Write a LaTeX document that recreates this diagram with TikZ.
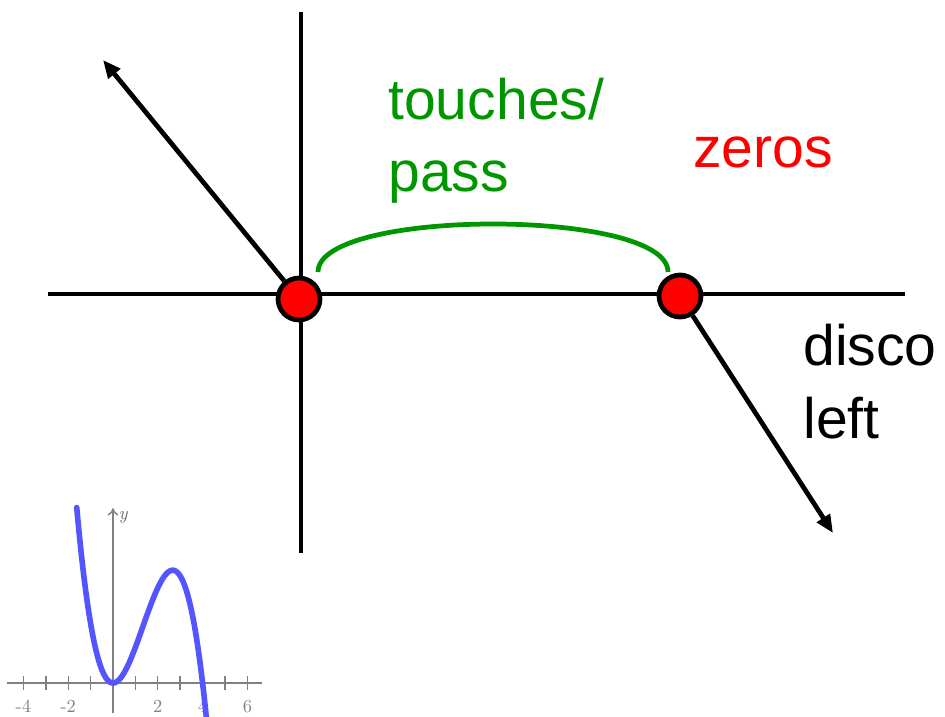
\documentclass[tikz,border=0pt]{standalone}
\usepackage{fontspec}
\setmainfont{Liberation Sans}
\newfontfamily\plotfont{Latin Modern Roman}
\usepackage{tikz}
\usetikzlibrary{positioning, arrows.meta, calc, backgrounds}

\definecolor{zerored}{RGB}{255,0,0}
\definecolor{passgreen}{RGB}{0,150,0}
\definecolor{curveblue}{RGB}{85,85,255}

\begin{document}
\begin{tikzpicture}[
    x=0.02cm, y=-0.02cm,
    axis/.style={line width=2.7pt},
    arrow/.style={line width=2.7pt, -{Triangle[length=3.6mm, width=3mm]}},
    zero/.style={circle, draw, fill=zerored, line width=2.7pt, minimum size=0.84cm, inner sep=0pt},
    label/.style={anchor=base west, inner sep=0pt, font=\fontsize{32.5}{41}\selectfont, align=left}
]
\useasboundingbox (0,0) rectangle (945,716);

% zeros
\node[zero] (z1) at (299,299) {};
\node[zero] (z2) at (680,296) {};

% axes and end arrows, behind the zeros
\coordinate (yTop) at (301,12);
\coordinate (yBot) at (301,553);
\coordinate (xLeft) at (48,294);
\coordinate (xRight) at (905,294);
\coordinate (tipL) at (103,60);
\coordinate (tipR) at (833,533);
\begin{scope}[on background layer]
    \draw[axis] (yTop) -- (yBot);
    \draw[axis] (xLeft) -- (xRight);
    \draw[arrow] (z1) -- (tipL);
    \draw[arrow] (z2) -- (tipR);
\end{scope}

\draw[passgreen, line width=2.7pt] (318,272) .. controls (318,208) and (668,208) .. (668,272);

% base anchor sits on the last line
\node[label, text=passgreen] (touch) at (388,192) {touches/\\pass};
\node[label, text=zerored] (zeros) at (693,168) {zeros};
\node[label] (disco) at (803,438) {disco\\left};

% small graph of the cubic
\begin{scope}[shift={(113,683)}, x=0.448cm, y=0.238cm, font=\plotfont\fontsize{10.5}{12}\selectfont]
    \draw[gray, line width=0.8pt] (-4.73,0) -- (6.65,0);
    \draw[gray, line width=0.8pt, -{To[length=1.5mm, width=2.2mm, open]}] (0,-2.5) -- (0,14.7);
    \foreach \t in {-4,-3,-2,-1,1,2,3,4,5,6} {
        \draw[gray, line width=0.8pt] (\t,-0.6) -- (\t,0.6);
    }
    \foreach \t in {-4,-2,2,4,6} {
        \node[text=gray!90!brown, inner sep=0pt] (tick\t) at (\t,-1.95) {\t};
    }
    \node[text=gray!80!black, inner sep=0pt] (ylab) at (0.45,13.9) {\itshape y};
    \draw[curveblue, line width=3.2pt, line cap=round] plot[domain=-1.62:4.17, samples=90, smooth] (\x, {-\x*\x*(\x-4)});
\end{scope}

\end{tikzpicture}
\end{document}
